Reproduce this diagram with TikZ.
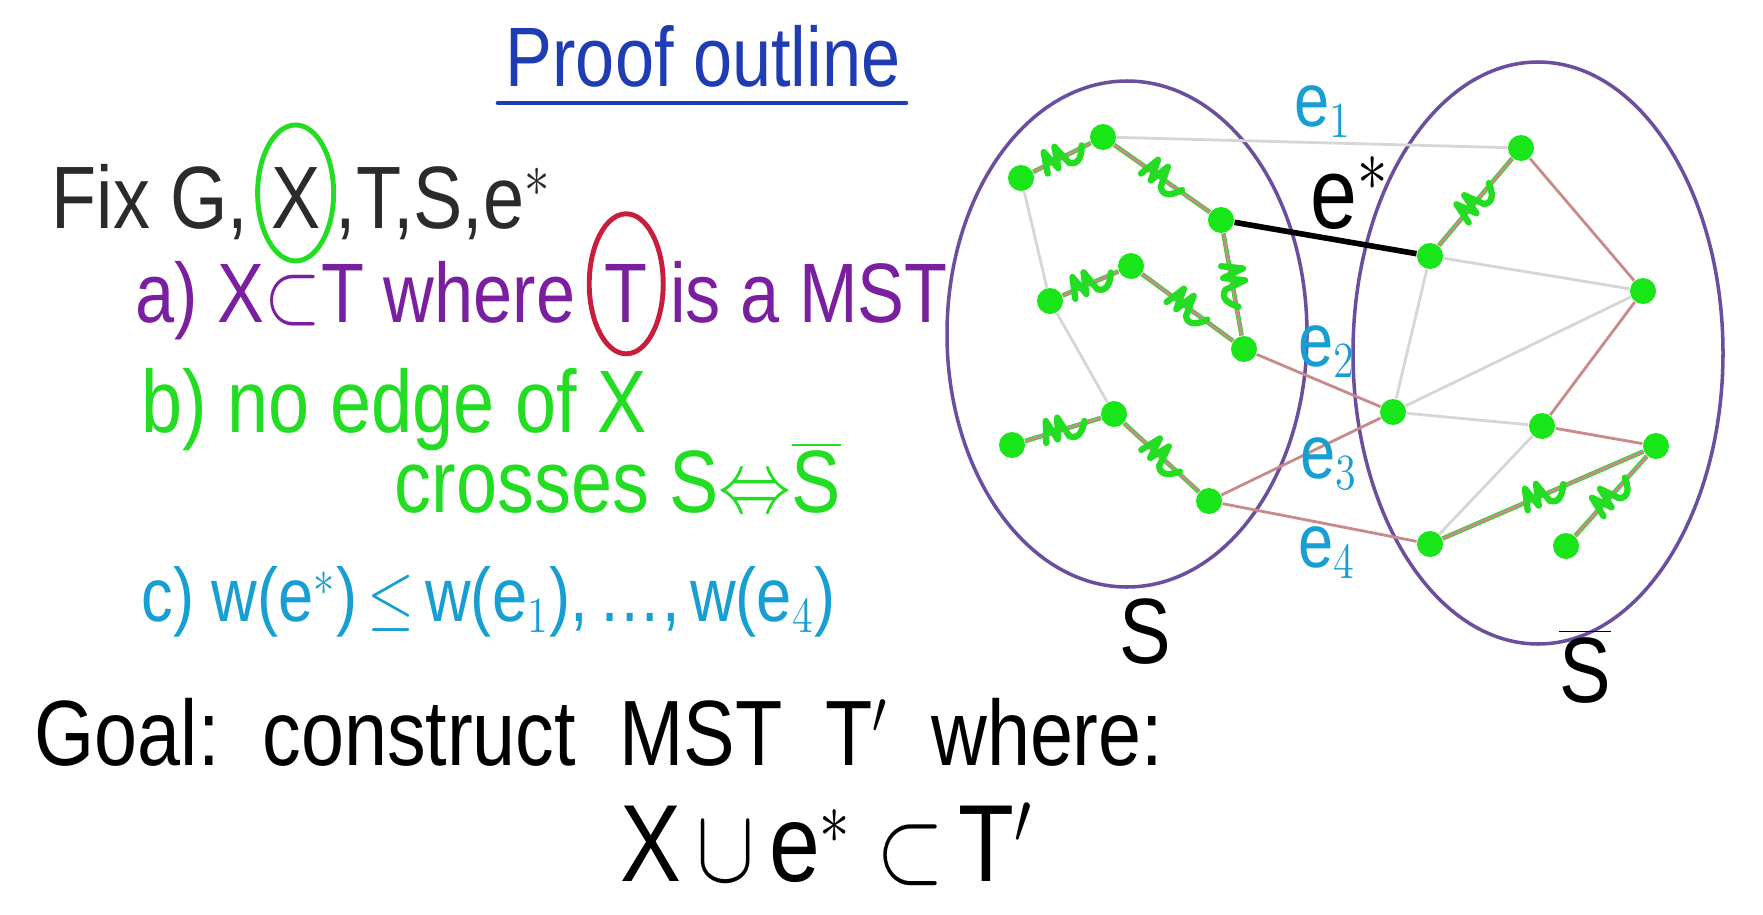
\documentclass[tikz,border=0pt]{standalone}
\usepackage{fontspec}
\setmainfont{Liberation Sans}
\usetikzlibrary{positioning, calc, decorations.markings}
\definecolor{inkblue}{HTML}{1E3CB4}
\definecolor{inkgrey}{HTML}{2B2B2B}
\definecolor{inkpurple}{HTML}{7A1FA0}
\definecolor{pengreen}{HTML}{22DD22}
\definecolor{dotgreen}{HTML}{19E619}
\definecolor{inkcyan}{HTML}{179FD3}
\definecolor{penred}{HTML}{C81E3C}
\definecolor{setpurple}{HTML}{6B4F9E}
\definecolor{treerose}{HTML}{C98A8A}
\definecolor{edgegrey}{HTML}{D6D6D6}

\begin{document}
\begin{tikzpicture}[
  hand/.style={inner sep=0pt, yscale=1.2},
  vtx/.style={circle, fill=dotgreen, inner sep=0pt, minimum size=2.6mm},
  greyedge/.style={draw=edgegrey, line width=0.8pt},
  treeedge/.style={draw=treerose, line width=0.8pt},
  xedge/.style={treeedge, preaction={draw=pengreen, line width=1.3pt},
    postaction={decorate, decoration={markings, mark=at position 0.5 with {
      \draw[pengreen, line width=1.8pt, line cap=round, line join=round]
        (-0.2,-0.08) -- (-0.14,0.13) -- (-0.08,-0.08) -- (-0.02,0.13) -- (0.04,-0.08)
        .. controls (0.12,-0.15) and (0.19,-0.06) .. (0.23,0.02);}}}},
]

% Canvas
\fill[white] (0,0) rectangle (17.63,9.14);
\useasboundingbox (0,0) rectangle (17.63,9.14);

% Title
\node[hand, text=inkblue, font=\fontsize{20}{24}\selectfont] (title) at (7.03,8.58) {Proof outline};
\coordinate (ulL) at (4.98,8.11);
\coordinate (ulR) at (9.06,8.11);
\draw[inkblue, line width=1.3pt, line cap=round] (ulL) -- (ulR);

% Fix line, X circled
\node[hand, text=inkgrey, font=\fontsize{21}{25}\selectfont, anchor=west] (fix) at (0.51,7.12) {Fix G,};
\node[hand, text=inkgrey, font=\fontsize{21}{25}\selectfont, base right=6pt of fix] (fixX) {X};
\node[hand, text=inkgrey, font=\fontsize{21}{25}\selectfont, base right=4pt of fixX] (fixrest) {,T,S,e$^{*}$};
\draw[pengreen, line width=1.4pt] ($(fixX.center)+(0,0.05)$) ellipse (0.38 and 0.68);

% a) line, T circled
\node[hand, text=inkpurple, font=\fontsize{20}{24}\selectfont, anchor=west] (alead) at (1.35,6.13) {a) X$\subset$T where};
\node[hand, text=inkpurple, font=\fontsize{20}{24}\selectfont, base right=8pt of alead] (aT) {T};
\node[hand, text=inkpurple, font=\fontsize{20}{24}\selectfont, base right=6pt of aT] (arest) {is a MST};
\draw[penred, line width=1.4pt] ($(aT.center)+(0,0.1)$) ellipse (0.37 and 0.7);

% b) line
\node[hand, text=pengreen, font=\fontsize{21}{25}\selectfont, anchor=west] (bline) at (1.41,5.04) {b) no edge of X};
\node[hand, text=pengreen, font=\fontsize{21}{25}\selectfont, anchor=west] (bcross) at (3.94,4.36)
  {crosses S$\Leftrightarrow$$\overline{\mbox{S}}$};

% c) line
\node[hand, text=inkcyan, font=\fontsize{18}{22}\selectfont, anchor=west] (cline) at (1.41,3.12)
  {c) w(e$^{*}$)$\,\leq\,$w(e$_1$),\,\ldots,\,w(e$_4$)};

% Goal
\node[hand, text=black, font=\fontsize{22}{26}\selectfont, anchor=west] (goal) at (0.34,1.82)
  {Goal:\ \ construct\ \ MST\ \ T$'$\ \ where:};
\node[hand, text=black, font=\fontsize{26}{30}\selectfont] (goalset) at (8.27,0.70)
  {X$\,\cup\,$e$^{*}\subset\,$T$'$};

% The two sides of the cut
\draw[setpurple, line width=1pt] (11.27,5.80) ellipse (1.80 and 2.53);
\draw[setpurple, line width=1pt] (15.38,5.61) ellipse (1.85 and 2.91);
\node[hand, font=\fontsize{22}{26}\selectfont] (sL) at (11.45,2.82) {S};
\node[hand, font=\fontsize{22}{26}\selectfont] (sR) at (15.85,2.48) {$\overline{\mbox{S}}$};

% Vertices in S
\node[vtx] (l1) at (10.21,7.36) {};
\node[vtx] (l2) at (11.03,7.77) {};
\node[vtx] (l3) at (12.21,6.94) {};
\node[vtx] (l4) at (12.44,5.65) {};
\node[vtx] (l5) at (10.50,6.13) {};
\node[vtx] (l6) at (11.31,6.48) {};
\node[vtx] (l7) at (10.12,4.69) {};
\node[vtx] (l8) at (11.14,5.00) {};
\node[vtx] (l9) at (12.09,4.13) {};

% Vertices in S-bar
\node[vtx] (r1) at (15.21,7.66) {};
\node[vtx] (r2) at (14.30,6.58) {};
\node[vtx] (r3) at (16.43,6.23) {};
\node[vtx] (r4) at (13.93,5.02) {};
\node[vtx] (r5) at (15.42,4.88) {};
\node[vtx] (r6) at (16.56,4.68) {};
\node[vtx] (r7) at (14.30,3.70) {};
\node[vtx] (r8) at (15.66,3.68) {};

% Edges not in T
\draw[greyedge] (l1) -- (l5);
\draw[greyedge] (l5) -- (l8);
\draw[greyedge] (l2) -- (r1);
\draw[greyedge] (r2) -- (r3);
\draw[greyedge] (r2) -- (r4);
\draw[greyedge] (r4) -- (r3);
\draw[greyedge] (r4) -- (r5);
\draw[greyedge] (r7) -- (r5);

% Edges of T
\draw[treeedge] (r1) -- (r3);
\draw[treeedge] (r5) -- (r3);
\draw[treeedge] (r5) -- (r6);
\draw[treeedge] (l4) -- (r4);
\draw[treeedge] (l9) -- (r4);
\draw[treeedge] (l9) -- (r7);

% Edges of X
\draw[xedge] (l1) -- (l2);
\draw[xedge] (l2) -- (l3);
\draw[xedge] (l3) -- (l4);
\draw[xedge] (l5) -- (l6);
\draw[xedge] (l6) -- (l4);
\draw[xedge] (l7) -- (l8);
\draw[xedge] (l8) -- (l9);
\draw[xedge] (r2) -- (r1);
\draw[xedge] (r7) -- (r6);
\draw[xedge] (r8) -- (r6);

% The light edge e*
\draw[black, line width=1.6pt] (l3) -- (r2);

% Edge labels
\node[hand, text=inkcyan, font=\fontsize{18}{22}\selectfont] (e1) at (13.23,8.02) {e$_1$};
\node[hand, text=black, font=\fontsize{24}{28}\selectfont] (estar) at (13.50,7.21) {e$^{*}$};
\node[hand, text=inkcyan, font=\fontsize{18}{22}\selectfont] (e2) at (13.27,5.62) {e$_2$};
\node[hand, text=inkcyan, font=\fontsize{18}{22}\selectfont] (e3) at (13.29,4.50) {e$_3$};
\node[hand, text=inkcyan, font=\fontsize{18}{22}\selectfont] (e4) at (13.27,3.61) {e$_4$};

\end{tikzpicture}
\end{document}
